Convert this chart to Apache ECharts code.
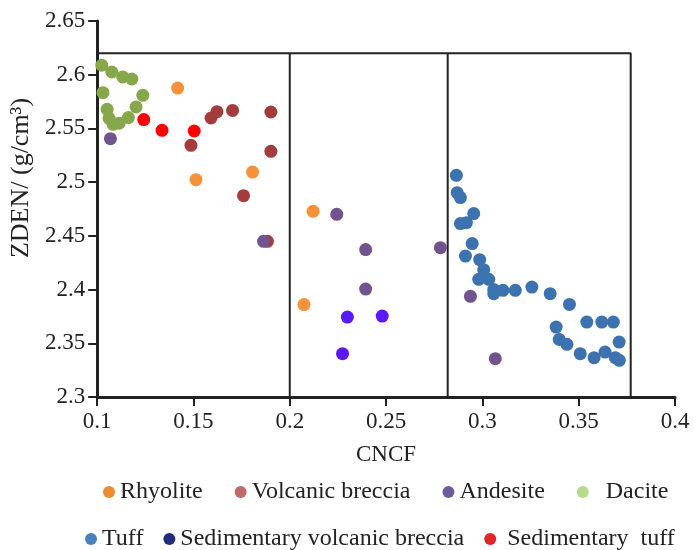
<!DOCTYPE html>
<html>
<head>
<meta charset="utf-8">
<script src="https://cdn.jsdelivr.net/npm/echarts@6/dist/echarts.min.js"></script>
<style>
    html, body { margin: 0; padding: 0; background: #fff; }
    #chart { width: 694px; height: 550px; }
</style>
</head>
<body>
<div id="chart"></div>
<script>
// CNCF / ZDEN pairs
var dacite = [
    [0.1024, 2.6088], [0.1076, 2.6025], [0.1133, 2.5979], [0.1180, 2.5960],
    [0.1030, 2.5833], [0.1237, 2.5808], [0.1052, 2.5678], [0.1202, 2.5700],
    [0.1062, 2.5594], [0.1083, 2.5538], [0.1114, 2.5548], [0.1162, 2.5601]
];
var rhyolite = [
    [0.1418, 2.5876], [0.1513, 2.5023], [0.1807, 2.5094], [0.2121, 2.4728], [0.2074, 2.3860]
];
var volcanicBreccia = [
    [0.1591, 2.5597], [0.1622, 2.5656], [0.1703, 2.5668], [0.1902, 2.5653],
    [0.1487, 2.5343], [0.1902, 2.5287], [0.1760, 2.4874], [0.1884, 2.4449]
];
var sedTuff = [
    [0.1242, 2.5582], [0.1337, 2.5482], [0.1504, 2.5476]
];
var andesite = [
    [0.1069, 2.5405], [0.1864, 2.4449], [0.2244, 2.4700], [0.2394, 2.4372],
    [0.2782, 2.4390], [0.2394, 2.4005], [0.2938, 2.3937], [0.3067, 2.3357]
];
var sedVolcanicBreccia = [
    [0.2299, 2.3744], [0.2480, 2.3753], [0.2274, 2.3403]
];
var tuff = [
    [0.2865, 2.5063], [0.2869, 2.4902], [0.2886, 2.4856], [0.2955, 2.4707],
    [0.2886, 2.4614], [0.2917, 2.4623], [0.2947, 2.4428], [0.2912, 2.4312],
    [0.2986, 2.4278], [0.3007, 2.4185], [0.2981, 2.4095], [0.3033, 2.4095],
    [0.3059, 2.4000], [0.3059, 2.3962], [0.3107, 2.3993], [0.3171, 2.3993],
    [0.3257, 2.4023], [0.3352, 2.3962], [0.3452, 2.3862], [0.3383, 2.3651],
    [0.3542, 2.3697], [0.3620, 2.3697], [0.3680, 2.3697], [0.3399, 2.3536],
    [0.3439, 2.3490], [0.3710, 2.3511], [0.3508, 2.3403], [0.3580, 2.3366],
    [0.3637, 2.3418], [0.3690, 2.3366], [0.3711, 2.3341]
];

// zone frame: top edge and the three vertical dividers
var frameTop = [[0.1, 2.62], [0.377, 2.62], [0.377, 2.3]];
var divider1 = [[0.2, 2.62], [0.2, 2.3]];
var divider2 = [[0.282, 2.62], [0.282, 2.3]];

var legendRow1 = ['Rhyolite', 'Volcanic breccia', 'Andesite', 'Dacite'];
var legendColors1 = ['#ee8c33', '#bf6a6a', '#6d5c9c', '#b4da8a'];
var legendRow2 = ['Tuff', 'Sedimentary volcanic breccia', 'Sedimentary tuff'];
var legendColors2 = ['#4a80bd', '#222a80', '#e02424'];

var serif = '"Liberation Serif", "DejaVu Serif", serif';

var chart = echarts.init(document.getElementById('chart'));

function dots(name, data, color) {
    return {
        name: name,
        type: 'scatter',
        data: data,
        symbolSize: 13,
        itemStyle: { color: color, opacity: 1 }
    };
}

function frame(data) {
    return {
        type: 'line',
        data: data,
        symbol: 'none',
        silent: true,
        z: 1,
        lineStyle: { color: '#222', width: 2 }
    };
}

function legendItems(names, colors) {
    return names.map(function (n, i) {
        return { name: n, itemStyle: { color: colors[i] } };
    });
}

var legendText = { fontFamily: serif, fontSize: 24, color: '#222' };

chart.setOption({
    animation: false,
    backgroundColor: '#fff',
    grid: { left: 96, right: 19, top: 21, bottom: 153 },
    legend: [
        {
            data: legendItems(legendRow1, legendColors1),
            top: 475, left: 98,
            icon: 'circle', itemWidth: 12, itemHeight: 12, itemGap: 32,
            formatter: function (name) {
                return name === 'Dacite' ? '  Dacite' : name;
            },
            textStyle: legendText
        },
        {
            data: legendItems(legendRow2, legendColors2),
            top: 522, left: 80,
            icon: 'circle', itemWidth: 12, itemHeight: 12, itemGap: 20,
            formatter: function (name) {
                return name === 'Sedimentary tuff' ? ' Sedimentary  tuff' : name;
            },
            textStyle: legendText
        }
    ],
    xAxis: {
        type: 'value',
        min: 0.1, max: 0.4, interval: 0.05,
        name: 'CNCF',
        nameLocation: 'middle',
        nameGap: 46,
        nameTextStyle: { fontFamily: serif, fontSize: 23, color: '#222' },
        axisLine: { lineStyle: { color: '#222', width: 3 } },
        axisTick: { show: true, length: 9, lineStyle: { color: '#222', width: 2 } },
        axisLabel: { fontFamily: serif, fontSize: 23, color: '#222', margin: 13 },
        splitLine: { show: false }
    },
    yAxis: {
        type: 'value',
        min: 2.3, max: 2.65, interval: 0.05,
        name: 'ZDEN/ (g/cm³)',
        nameLocation: 'middle',
        nameGap: 58,
        nameTextStyle: { fontFamily: serif, fontSize: 26, color: '#222', padding: [0, 0, 0, 62] },
        axisLine: { show: true, lineStyle: { color: '#222', width: 3 } },
        axisTick: { show: true, length: 9, lineStyle: { color: '#222', width: 2 } },
        axisLabel: { fontFamily: serif, fontSize: 23, color: '#222', margin: 12 },
        splitLine: { show: false }
    },
    series: [
        frame(frameTop),
        frame(divider1),
        frame(divider2),
        dots('Dacite', dacite, '#86a84b'),
        dots('Rhyolite', rhyolite, '#f7923a'),
        dots('Volcanic breccia', volcanicBreccia, '#a33d3d'),
        dots('Sedimentary tuff', sedTuff, '#ff0000'),
        dots('Andesite', andesite, '#70548f'),
        dots('Sedimentary volcanic breccia', sedVolcanicBreccia, '#5b1af5'),
        dots('Tuff', tuff, '#3d72b0')
    ]
});

window.addEventListener('resize', function () {
    chart.resize();
});
</script>
</body>
</html>
